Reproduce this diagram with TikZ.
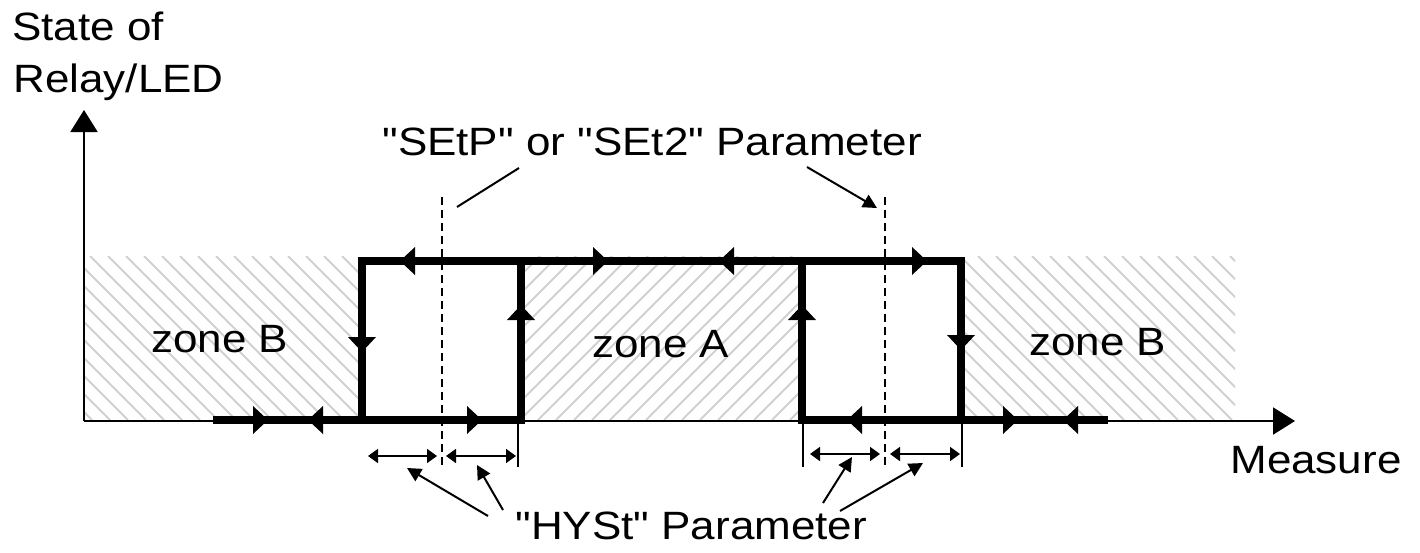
\documentclass[tikz,border=0pt]{standalone}
\usepackage{fontspec}
\usepackage{graphicx}
\setmainfont{Liberation Sans}[Ligatures=TeXOff]
\usetikzlibrary{arrows.meta}
\newcommand{\lbl}[1]{\scalebox{1.114}[1]{#1}}
\newcommand{\trR}[2]{\fill[tri] (#1,#2) -- ++(-15,-14) -- ++(0,28) -- cycle;}
\newcommand{\trL}[2]{\fill[tri] (#1,#2) -- ++(15,-14) -- ++(0,28) -- cycle;}
\newcommand{\trU}[2]{\fill[tri] (#1,#2) -- ++(-14,15) -- ++(28,0) -- cycle;}
\newcommand{\trD}[2]{\fill[tri] (#1,#2) -- ++(-14,-15) -- ++(28,0) -- cycle;}
\begin{document}
\begin{tikzpicture}[x=0.5pt,y=-0.5pt,
  txt/.style={anchor=base west,inner sep=0pt,font=\fontsize{19.75}{24}\selectfont},
  hatch/.style={draw=black!18,line width=1pt},
  axis/.style={line width=1pt,-{Triangle[length=11pt,width=13.5pt]}},
  loop/.style={line width=4pt,line join=miter},
  tri/.style={black},
  dimarrow/.style={line width=0.9pt,{Triangle[length=5pt,width=7pt]}-{Triangle[length=5pt,width=7pt]}},
  pointer/.style={line width=1pt,-{Triangle[length=7pt,width=7pt]}},
  setline/.style={line width=0.75pt,dash pattern=on 4pt off 2.5pt},
  tick/.style={line width=0.75pt}]
\useasboundingbox (0,0) rectangle (1420,552);
% hatched zones
\begin{scope}
  \clip (84,256) rectangle (358,420);
  \foreach \c in {-180,-162,...,360} {\draw[hatch] (\c,256) -- ++(164,164);}
\end{scope}
\begin{scope}
  \clip (963,256) rectangle (1235,420);
  \foreach \c in {780,798,...,1240} {\draw[hatch] (\c,256) -- ++(164,164);}
\end{scope}
\begin{scope}
  \clip (523,256) rectangle (800,420);
  \foreach \c in {340,358,...,810} {\draw[hatch] (\c,420) -- ++(164,-164);}
\end{scope}
% coordinates
\coordinate (O) at (84,421);
\coordinate (ytip) at (84,110);
\coordinate (xtip) at (1295,421);
% axes
\draw[axis] (84,421) -- (ytip);
\draw[axis] (O) -- (xtip);
% dashed set-point lines
\coordinate (d1t) at (442,197); \coordinate (d1b) at (442,468);
\coordinate (d2t) at (885,197); \coordinate (d2b) at (885,468);
\draw[setline] (d1t) -- (d1b);
\draw[setline] (d2t) -- (d2b);
% ticks
\draw[tick] (518,420) -- (518,467);
\draw[tick] (803,420) -- (803,467);
\draw[tick] (962,420) -- (962,467);
% thick loop
\draw[loop] (213,420) -- (521,420) -- (521,261);
\draw[loop] (362,420) -- (362,261) -- (961,261) -- (961,420);
\draw[loop] (802,261) -- (802,420) -- (1108,420);
% direction marks
\trR{268}{420} \trL{308}{420} \trR{482}{420}
\trD{362}{352} \trL{400}{261} \trU{521}{305}
\trR{608}{261} \trL{719}{261} \trU{802}{305}
\trR{927}{261} \trD{961}{350}
\trL{847}{420} \trR{1018}{420} \trL{1063}{420}
% hysteresis dimension arrows
\draw[dimarrow] (368,456) -- (437,456);
\draw[dimarrow] (446,456) -- (516,456);
\draw[dimarrow] (810,454) -- (880,454);
\draw[dimarrow] (890,454) -- (960,454);
% labels
\node[txt] (stateA) at (12,40) {\lbl{State of}};
\node[txt] (stateB) at (13,92) {\lbl{Relay/LED}};
\node[txt] (setp) at (382,155) {\lbl{"SEtP" or "SEt2" Parameter}};
\node[txt] (hyst) at (515,539) {\lbl{"HYSt" Parameter}};
\node[txt] (measure) at (1230,473) {\lbl{Measure}};
\node[txt] (zoneA) at (592,357) {\lbl{zone A}};
\node[txt] (zoneB1) at (151,352) {\lbl{zone B}};
\node[txt] (zoneB2) at (1029,355) {\lbl{zone B}};
% pointers
\coordinate (s1a) at (519,168); \coordinate (s1b) at (457,207);
\coordinate (s2a) at (807,167); \coordinate (s2b) at (877,208);
\draw[line width=1pt] (s1a) -- (s1b);
\draw[pointer] (s2a) -- (s2b);
\coordinate (h1a) at (488,516); \coordinate (h1b) at (407,468);
\coordinate (h2a) at (503,510); \coordinate (h2b) at (477,465);
\coordinate (h3a) at (823,503); \coordinate (h3b) at (852,457);
\coordinate (h4a) at (840,511); \coordinate (h4b) at (923,463);
\draw[pointer] (h1a) -- (h1b);
\draw[pointer] (h2a) -- (h2b);
\draw[pointer] (h3a) -- (h3b);
\draw[pointer] (h4a) -- (h4b);
\end{tikzpicture}
\end{document}
